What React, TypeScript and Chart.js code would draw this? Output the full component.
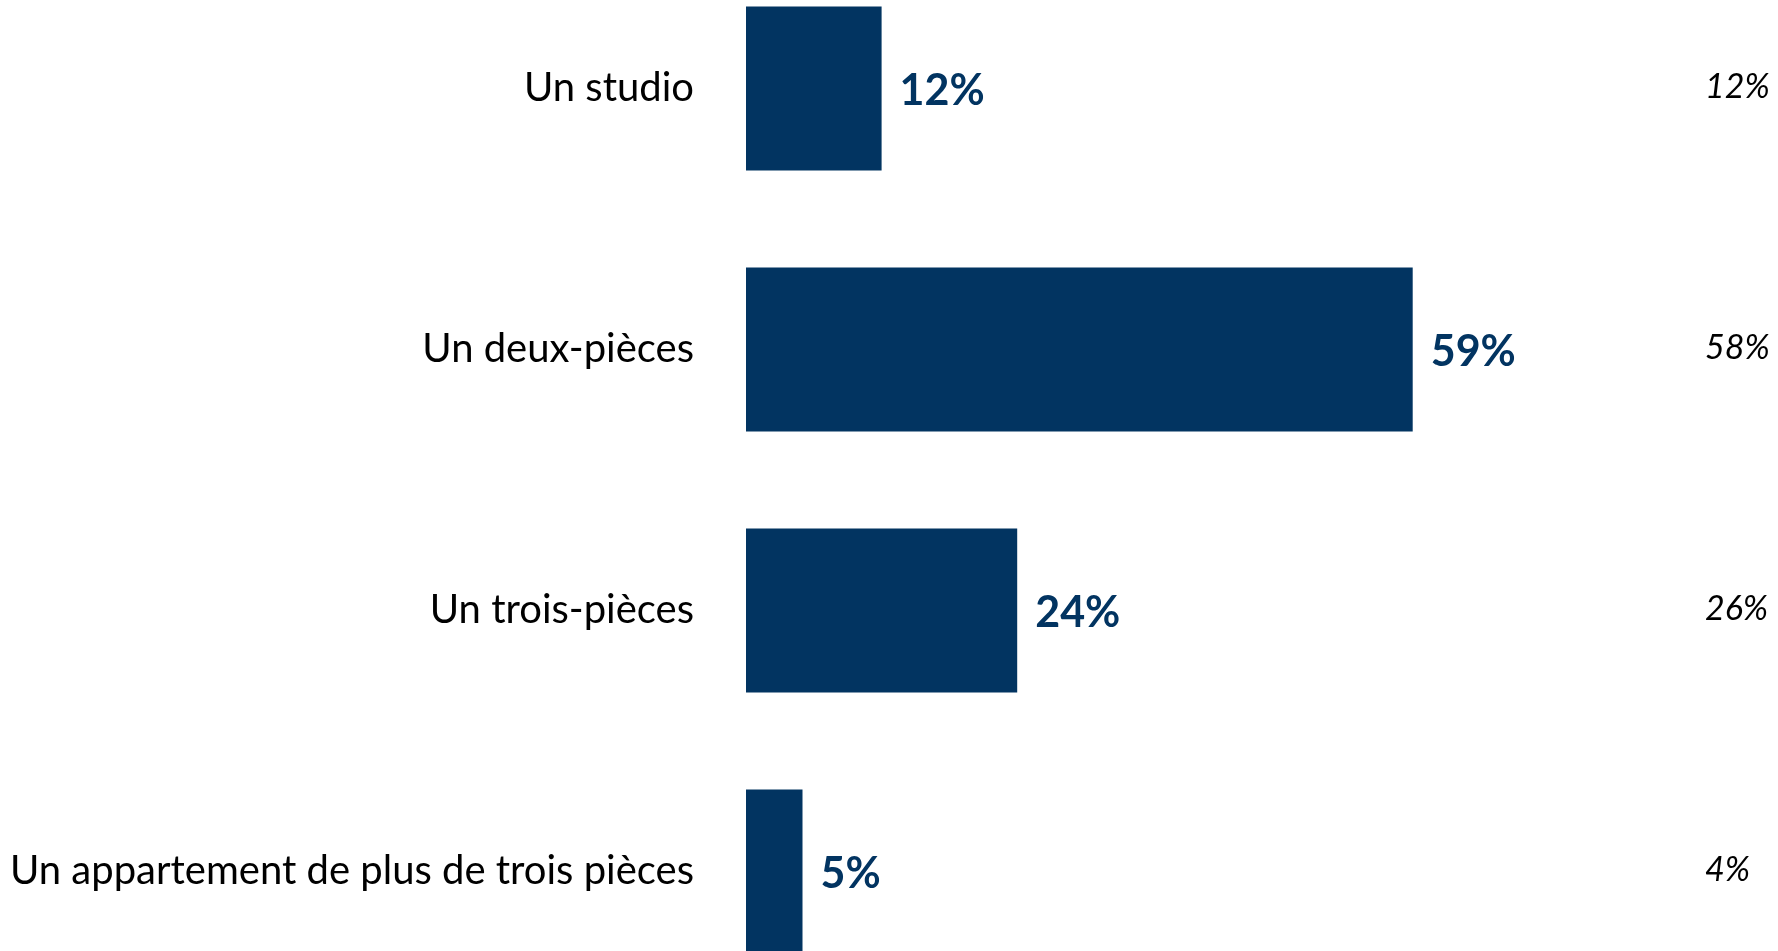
import { useEffect, useRef } from "react";
import { Chart, registerables } from "chart.js";

Chart.register(...registerables);

const categories = [
  "Un studio",
  "Un deux-pièces",
  "Un trois-pièces",
  "Un appartement de plus de trois pièces",
];
const currentValues = [12, 59, 24, 5];
const previousValues = [12, 58, 26, 4];

const BAR_COLOR = "#023461";

const labelPlugin = {
  id: "valueLabels",
  afterDatasetsDraw(chart: any) {
    const ctx = chart.ctx;
    const meta = chart.getDatasetMeta(0);
    ctx.save();
    ctx.textBaseline = "middle";
    meta.data.forEach((bar: any, i: number) => {
      ctx.fillStyle = BAR_COLOR;
      ctx.font = "bold 43px Lato";
      ctx.textAlign = "left";
      ctx.fillText(currentValues[i] + "%", bar.x + 18, bar.y + 3);
      ctx.fillStyle = "#000";
      ctx.font = "italic 34px Lato";
      ctx.fillText(previousValues[i] + "%", chart.chartArea.right + 55, bar.y - 1);
    });
    ctx.restore();
  },
};

export default function App() {
  const ref = useRef<HTMLCanvasElement>(null);
  useEffect(() => {
    document.body.style.margin = "0";
    document.body.style.overflow = "hidden";
    const chart = new Chart(ref.current!, {
      type: "bar",
      data: {
        labels: categories,
        datasets: [
          {
            data: currentValues,
            backgroundColor: BAR_COLOR,
            barPercentage: 0.628,
            categoryPercentage: 1,
          },
        ],
      },
      options: {
        indexAxis: "y",
        animation: false,
        responsive: false,
        maintainAspectRatio: false,
        layout: { padding: { left: 0, right: 128, top: 0, bottom: 0 } },
        plugins: { legend: { display: false }, tooltip: { enabled: false } },
        scales: {
          x: { min: 0, max: 80, display: false },
          y: {
            grid: { display: false, drawTicks: false },
            border: { display: false },
            ticks: {
              color: "#000",
              font: { family: "Lato", size: 40 },
              padding: 52,
            },
            afterFit: (s: any) => {
              s.width = 746;
              s.paddingTop = 0;
              s.paddingBottom = 0;
            },
          },
        },
      },
      plugins: [labelPlugin],
    });
    return () => chart.destroy();
  }, []);
  return (
    <div style={{ position: "absolute", left: 0, top: -42, width: 1778, height: 1044 }}>
      <canvas ref={ref} width={1778} height={1044} />
    </div>
  );
}
